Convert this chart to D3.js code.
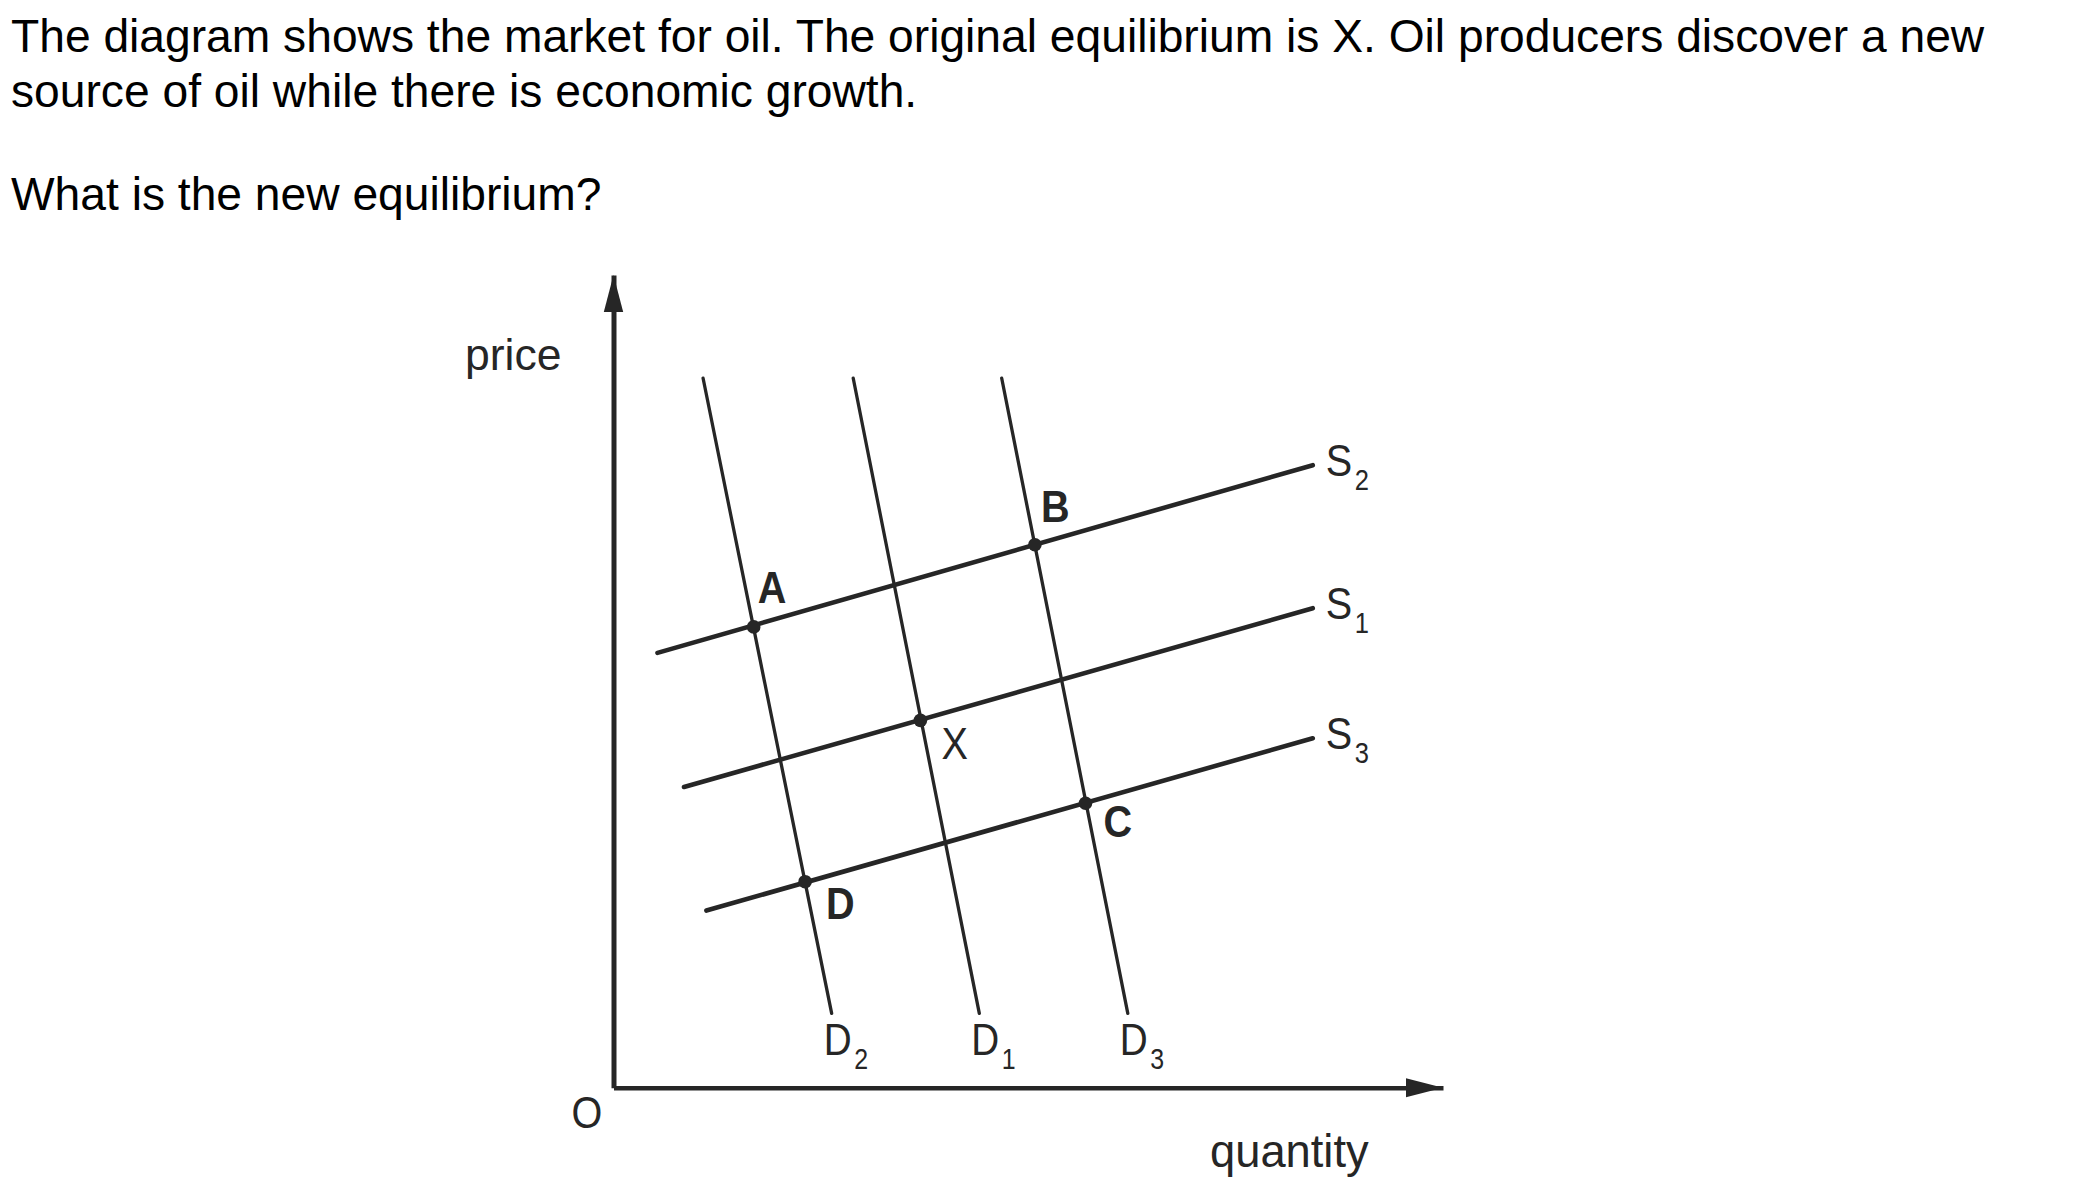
<!DOCTYPE html>
<html>
<head>
<meta charset="utf-8">
<script src="https://cdn.jsdelivr.net/npm/d3@7"></script>
<style>
  html, body { margin: 0; padding: 0; background: #fff; }
  svg { display: block; }
  text { font-family: "Liberation Sans", Arial, Helvetica, sans-serif; }
</style>
</head>
<body>
<svg id="chart" width="2100" height="1188"></svg>
<script>
// ---------- question text ----------
const questionLines = [
  "The diagram shows the market for oil. The original equilibrium is X. Oil producers discover a new",
  "source of oil while there is economic growth.",
  "What is the new equilibrium?"
];
const questionBaselines = [51.7, 107, 210];

// ---------- axis labels ----------
const xAxisLabel = "quantity";
const yAxisLabel = "price";
const originLabel = "O";

// ---------- demand curves (quantity at top and bottom ends) ----------
const demandNames = ["D", "D", "D"];
const demandSubs = ["2", "1", "3"];
const demandQTop = [10.8, 28.9, 46.8];
const demandQBottom = [26.3, 44.1, 62.0];
const demandPTop = 87.3;
const demandPBottom = 9.15;

// ---------- supply curves (price at left and right ends) ----------
const supplyNames = ["S", "S", "S"];
const supplySubs = ["2", "1", "3"];
const supplyQLeft = [5.3, 8.5, 11.2];
const supplyPLeft = [53.5, 37.0, 21.8];
const supplyQRight = 84.3;
const supplyPRight = [76.6, 59.0, 43.0];

// ---------- equilibrium points ----------
const pointNames = ["A", "B", "X", "C", "D"];
const pointQ = [16.9, 50.8, 37.0, 56.9, 23.1];
const pointP = [56.7, 66.8, 45.2, 35.0, 25.35];
const pointBold = [true, true, false, true, true];

// ---------- drawing ----------
const svg = d3.select("#chart");
const ink = "#262626";

const x = d3.scaleLinear().domain([0, 100]).range([613.5, 1443]);
const y = d3.scaleLinear().domain([0, 100]).range([1087.7, 275]);

// question
svg.append("g").selectAll("text")
  .data(questionLines)
  .join("text")
  .attr("x", 11)
  .attr("y", (d, i) => questionBaselines[i])
  .attr("font-size", 46.2)
  .attr("fill", "#000")
  .text(d => d);

// axes (no ticks; domain line only)
const xAxisG = svg.append("g")
  .attr("transform", `translate(0,${y(0)})`)
  .call(d3.axisBottom(x).tickValues([]).tickSizeOuter(0));
xAxisG.select(".domain").attr("stroke", ink).attr("stroke-width", 4.5);

const yAxisG = svg.append("g")
  .attr("transform", `translate(${x(0)},0)`)
  .call(d3.axisLeft(y).tickValues([]).tickSizeOuter(0));
yAxisG.select(".domain").attr("stroke", ink).attr("stroke-width", 5);

// arrowheads
const xEnd = x.range()[1], yEnd = y.range()[1];
svg.append("path")
  .attr("d", `M${xEnd},${y(0)} L${xEnd - 37},${y(0) - 9.5} L${xEnd - 37},${y(0) + 9.5} Z`)
  .attr("fill", ink);
svg.append("path")
  .attr("d", `M${x(0)},${yEnd} L${x(0) - 9.7},${yEnd + 37} L${x(0) + 9.7},${yEnd + 37} Z`)
  .attr("fill", ink);

// axis labels
svg.append("text").attr("x", 465).attr("y", 369.5).attr("font-size", 44.5).attr("fill", ink).text(yAxisLabel);
svg.append("text").attr("x", 1210).attr("y", 1166.7).attr("font-size", 45.3).attr("fill", ink).text(xAxisLabel);
svg.append("g")
  .attr("transform", `translate(${x(0) - 42},${y(0) + 40}) scale(0.88,1)`)
  .append("text").attr("font-size", 45).attr("fill", ink).text(originLabel);

// demand lines
const demand = demandNames.map((n, i) => ({
  name: n, sub: demandSubs[i],
  pts: [[demandQTop[i], demandPTop], [demandQBottom[i], demandPBottom]]
}));
const supply = supplyNames.map((n, i) => ({
  name: n, sub: supplySubs[i],
  pts: [[supplyQLeft[i], supplyPLeft[i]], [supplyQRight, supplyPRight[i]]]
}));

const line = d3.line().x(d => x(d[0])).y(d => y(d[1]));

svg.append("g").selectAll("path")
  .data(demand)
  .join("path")
  .attr("d", d => line(d.pts))
  .attr("fill", "none")
  .attr("stroke", ink)
  .attr("stroke-width", 3.3)
  .attr("stroke-linecap", "round");

svg.append("g").selectAll("path")
  .data(supply)
  .join("path")
  .attr("d", d => line(d.pts))
  .attr("fill", "none")
  .attr("stroke", ink)
  .attr("stroke-width", 4.6)
  .attr("stroke-linecap", "round");

// curve labels with subscripts
function subLabel(g, name, sub) {
  const t = g.append("text").attr("fill", ink).attr("font-size", 45);
  t.append("tspan").text(name);
  t.append("tspan").attr("font-size", 29).attr("dx", 3).attr("dy", 14).text(sub);
}

demand.forEach(d => {
  const end = d.pts[1];
  const g = svg.append("g")
    .attr("transform", `translate(${x(end[0]) - 8},${y(end[1]) + 42}) scale(0.86,1)`);
  subLabel(g, d.name, d.sub);
});

supply.forEach(d => {
  const end = d.pts[1];
  const g = svg.append("g")
    .attr("transform", `translate(${x(end[0]) + 13},${y(end[1]) + 11}) scale(0.88,1)`);
  subLabel(g, d.name, d.sub);
});

// equilibrium points
const points = pointNames.map((n, i) => ({ name: n, q: pointQ[i], p: pointP[i], bold: pointBold[i] }));
svg.append("g").selectAll("circle")
  .data(points)
  .join("circle")
  .attr("cx", d => x(d.q))
  .attr("cy", d => y(d.p))
  .attr("r", 6.8)
  .attr("fill", ink);

const labelOffsets = { A: [4, -24], B: [6, -23], X: [21, 39], C: [18, 34], D: [21, 37] };
points.forEach(d => {
  const o = labelOffsets[d.name];
  svg.append("g")
    .attr("transform", `translate(${x(d.q) + o[0]},${y(d.p) + o[1]}) scale(0.88,1)`)
    .append("text")
    .attr("font-size", 45)
    .attr("font-weight", d.bold ? "bold" : "normal")
    .attr("fill", ink)
    .text(d.name);
});
</script>
</body>
</html>
